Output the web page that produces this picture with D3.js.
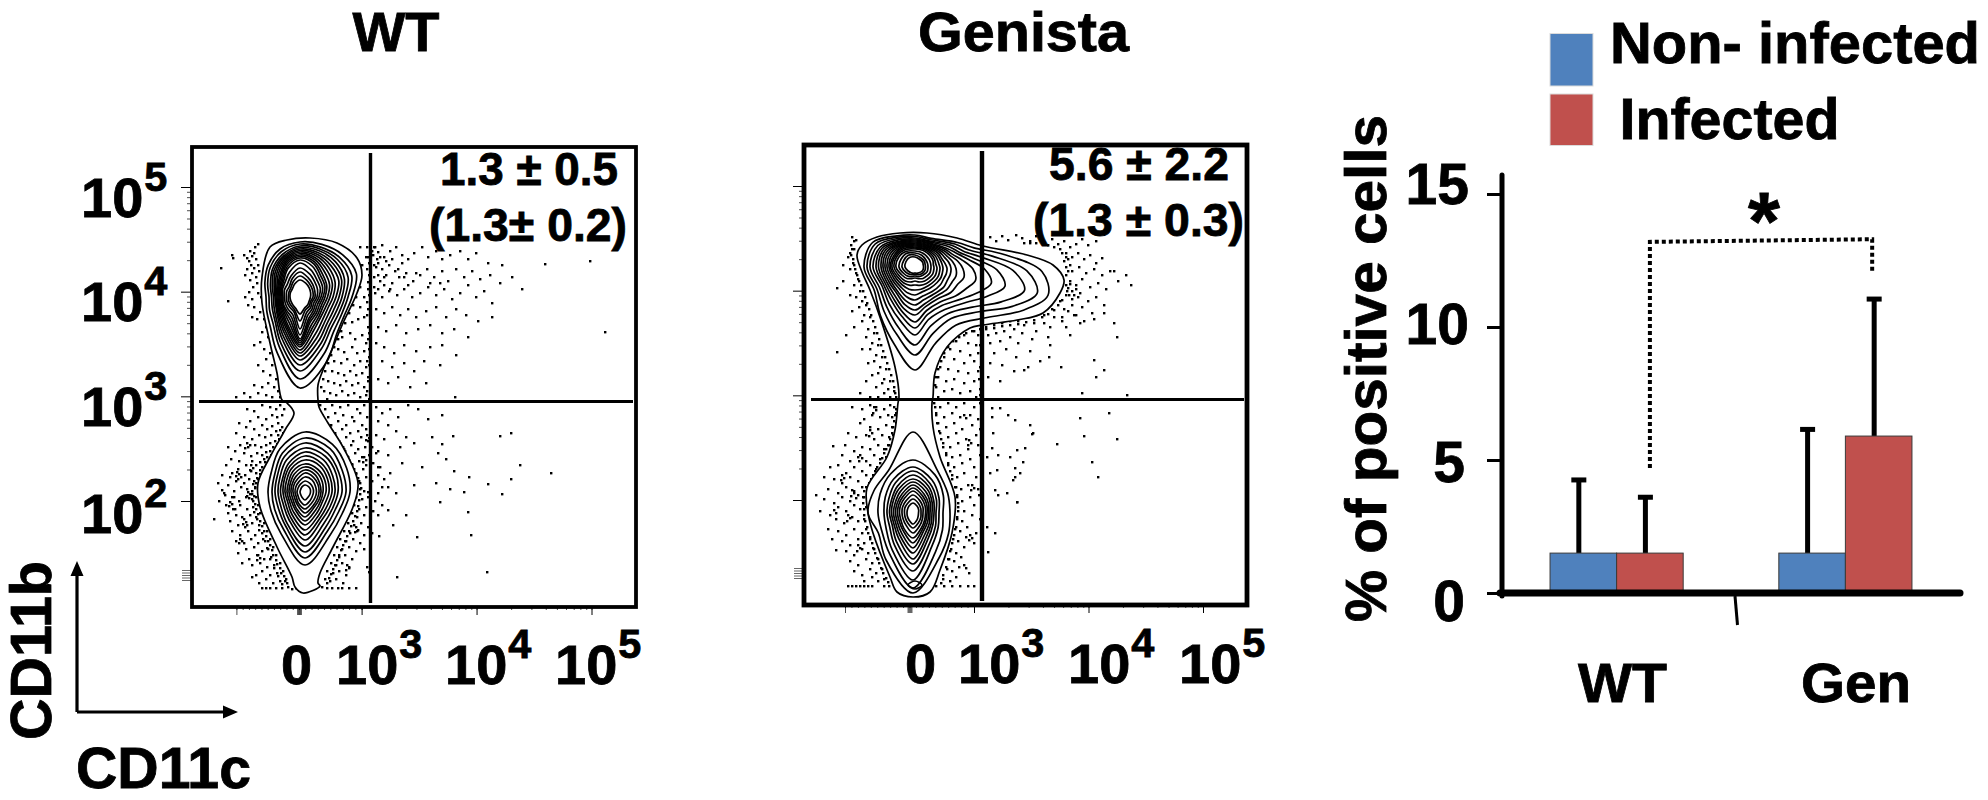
<!DOCTYPE html>
<html><head><meta charset="utf-8">
<script src="https://cdnjs.cloudflare.com/ajax/libs/d3/7.8.5/d3.min.js"></script>
<style>html,body{margin:0;background:#fff}svg{display:block}text{font-family:"Liberation Sans",Arial,sans-serif;font-weight:700;fill:#000;stroke:#000;stroke-width:.8px}</style>
</head><body><svg id="c" width="1988" height="800"></svg>
<script>
// ---- bar panel data
const groups = ["WT","Gen"];
const seriesNames = ["Non- infected","Infected"];
const seriesColors = ["#4F81BD","#C0504D"];
const nonInfected = [1.5,1.5];
const infected = [1.5,5.9];
const nonInfectedTop = [4.25,6.15];
const infectedTop = [3.6,11.05];
const barTicks = [0,5,10,15];
const bracket = [[4.7,0],[13.2,0],[13.3,1],[12.1,1]];

// ---- flow panels: contour rings and events in channel units
const wtOuter = [[118,91],[145,96],[165,111],[170,128],[165,146],[151,176],[141,200],[131,223],[126,238],[126,253],[127,260],[136,276],[151,300],[166,336],[161,360],[141,400],[128,426],[126,436],[128,439],[111,446],[103,440],[100,430],[85,400],[68,360],[66,336],[78,310],[93,283],[102,266],[95,256],[90,253],[85,226],[78,196],[70,156],[70,130],[78,100],[95,93]];
const wtUpperCentre = [108,150];
const wtUpperAngles = [0,22.5,45,67.5,90,112.5,135,157.5,180,202.5,225,247.5,270,292.5,315,337.5];
const wtUpperRings = [
[55,57,60,61,52,48,52,70,91,60,42,36,34,38,45,52],
[53,54,56,56,48,45,48,62,82,54,38,33,31,35,42,49],
[51,52,53,52,45,42,44,56,74,50,35,30,28.5,32,39,46],
[49.5,50,50,48,42,39,41,52,68,46,33,28,26.5,30,37,44],
[48,48,47,45,39,36,38,48,63,43,31,26,25,28,35,42.5],
[46.5,46,44,42,36,33,35,44,59,40,29.5,25,24,26.5,33,41],
[45,44,41,38,33,30,32,40,56,37.5,28,24,23,25,31,39.5],
[43.5,42,38,35,30,27.5,29,36,53,35,26.5,23,22,24,29,38],
[42,40,35,32,27.5,25,27,33,50,33,25,22,21,23,27.5,36.5],
[40.5,38,32,29,25,23,25,30,48,31,23.5,21,20,22,26,35],
[39,36,29.5,27,23,21,23,27,46,28,22,20,19,21,24.5,33],
[37,33,27,24.5,21,19,21,25,44,25,20.5,19,18,20,23,31],
[34,29,24,22,19,17,19,23,42,22,19,18,17,19,21,27],
[29,25,21,19,17,15,17,20,38,19,17,16,15.5,17,18,23],
[25,21,18,16,15,13,15,17,32,16,14.5,14,13.5,14.5,15,20],
[21,18,15.5,14,13,11.5,13,14,24,14,12.5,12,11.5,12,13,17],
[17,15,13,11.5,10.5,10,11,12,17,12,10.5,10,10,10.5,11,14]];
const wtLowerCentre = [113,345];
const lowerAngles = [0,30,60,90,120,150,180,210,240,270,300,330];
const wtLowerRings = [
[60,55,48,45,43,50,73,48,39,37,39,50],
[54,50,43,41,39,45,66,43,35,33,35,45],
[49,45,39,37,35,41,60,39,31,30,32,41],
[44,41,36,33,32,37,54,36,28,27,29,37],
[40,37,32,30,29,33,48,32,25,24.5,26,33],
[36,33,29,27,26,30,43,29,22.5,22,24,30],
[32,30,26,24,23,27,38,26,20,20,21.5,27],
[28,26,23,21,20,24,33,23,18,18,19,24],
[25,23,20,18,18,21,29,20,16,16,17,21],
[22,20,17,16,16,18,25,18,14,14,15,18],
[19,17,15,14,14,16,21,15,12,12,13,15],
[15,14,12,11.5,11.5,13,17,13,10,10,10.5,12],
[11,10,9,8.5,8.5,10,13,10,8,8,8,9],
[7,6.5,6,5.5,5.5,6,8,6,5,5,5,6]];

const genOuter = [[123,88],[153,93],[179,101],[223,110],[249,120],[260,135],[256,148],[239,168],[213,175],[179,180],[166,183],[143,202],[131,228],[129,252],[128,258],[129,282],[136,312],[151,352],[148,388],[136,425],[126,447],[109,452],[93,447],[86,432],[69,388],[64,368],[63,343],[83,312],[91,285],[94,258],[95,252],[91,222],[78,178],[66,145],[58,127],[53,110],[58,100],[73,92],[96,88]];
const genUpperCentre = [111,122];
const genUpperAngles = [0,30,60,72,82,92,102,112,125,145,165,180,195,215,240,270,300,330];
const genUpperRings = [
[32,33,49,62,90,127,136,116,88,71,79,103,80,60,47,51,49,36],
[30.5,31.5,46,56,78,112,125,105,78,63,69,88,70,54,44,48,46,34.5],
[29,30,43,51,68,98,112,93,70,57,61,78,63,49,41,45,43,33],
[28,29,40,47,60,82,92,78,62,52,54,68,56,45,38,42,40,31.5],
[27,28,37,44,54,70,78,68,56,47,49,61,51,41,36,39,38,30],
[26,27,35,40,48,58,62,56,50,43,45,55,47,38,34,36.5,36,29],
[25,26,33,37,43,48,50,46,44,39,41,48,43,35,32,34,34,28],
[24,25,31,34,38,41,42,40,39,36,38,43,39,32,30,32,32,27],
[23,24,29,31,34,36,36,35,35,33,34,38,35,30,28,30,30,26],
[22,23,27,28,30,32,32,31,31,30,30,33,31,27,26,28,28,25],
[21,22,25,26,27,28,28,28,27,26,26,28,27,24.5,24,26,26,24],
[20,21,23,23.5,24,25,25,25,24,23,23,23,23,22,22,24.5,24,23],
[19,20,21,21,21,22,22,22,21,20,19,18,19,19.5,20,23,22.5,21.5],
[18,18.5,19,19,18.5,19,19,19,18,17,15.5,14,15.5,17,18,21,21,20],
[16,16,16,16,16,16,16,16,15,14,12,11,12,14,15.5,19,19,18],
[14,13.5,13,13,13,13,13,13,12,11,10,9,10,11.5,13,16,16,16],
[12,11,11,10.5,10.5,10.5,10.5,10.5,10,9,8,7.5,8,9,10.5,13,13,13.5],
[10,9,9,8.5,8.5,8.5,8.5,8.5,8,7,6.5,6,6.5,7,8,10,10.5,11]];
const genLowerCentre = [109,368];
const genLowerRings = [
[81,49,40,37,41,52,80,54,40,45,45,49],
[53,44,35,30,34,45,75,47,36,35,38,45],
[46,38,30,26,29,38,67,42,31,29,32,39],
[42,34,27,23,26,34,58,37,27,26,28,35],
[38,31,24,21,23,30,51,33,24,23.5,25,31],
[34,28,22,19,21,27,46,29,22,21.5,23,28],
[31,25,20,17,19,24,40,26,20,19.5,20.5,25],
[28,22,18,15.5,17,21,35,23,18,17.5,18.5,22],
[25,19.5,16,14,15,19,30,20,16,15.5,16.5,19.5],
[22,17,14,12.5,13.5,17,25,18,14,13.5,14.5,17],
[18,14,11.5,10,11,14,20,14,11.5,11,12,14],
[14,11,9,8,9,11,15,11,9,8.5,9.5,11],
[10,8,6.5,5.5,6,8,11,8,6.5,6,6.5,8]];
const genMiniRing = [[111,436],[118,440],[111,444],[104,440]];

const wtEvents = [
29,121,36,154,40,108,41,111,52,108,55,111,58,104,60,109,63,100,66,97,62,106,57,114,59,118,64,112,62,121,60,126,66,118,55,122,53,128,58,133,64,130,67,124,65,136,61,140,57,145,53,150,60,152,66,146,69,150,56,158,62,160,68,165,72,172,65,172,60,170,74,180,70,185,76,190,68,195,62,198,72,202,78,206,74,212,66,218,80,218,71,224,78,228,84,232,76,236,70,240,82,240,86,244,66,246,74,248,80,250,88,250,62,238,58,250,52,246,44,250,
88,258,92,262,84,262,78,260,70,258,62,264,55,262,90,268,85,270,80,268,74,272,66,270,58,274,86,276,80,279,75,282,70,278,62,282,54,280,47,276,84,284,79,288,73,290,67,288,60,292,52,290,44,286,78,296,74,298,69,300,63,298,56,300,48,298,74,305,70,308,65,306,59,309,52,306,43,304,36,300,72,312,68,315,64,318,60,314,54,318,47,314,39,312,68,323,64,326,59,324,53,328,46,322,40,326,34,318,66,332,62,334,57,332,52,336,44,334,38,330,30,328,63,340,60,344,55,342,49,340,42,344,36,338,26,336,64,350,60,352,54,350,47,354,40,350,33,348,66,358,61,360,55,362,48,358,41,362,34,358,27,354,68,366,64,370,58,368,50,370,44,368,36,366,22,372,72,376,67,378,60,376,53,380,46,378,38,374,75,384,70,386,63,388,56,384,48,388,40,384,78,392,73,394,66,396,59,392,52,396,44,394,81,400,76,402,70,404,62,400,54,402,46,406,84,408,79,410,72,412,65,408,57,412,88,416,82,418,75,420,68,416,60,418,50,416,91,424,85,426,78,428,70,424,64,428,94,432,88,434,81,436,74,432,67,436,60,430,96,440,90,441,84,441,78,441,74,441,70,441,100,442,104,441,
128,258,133,262,140,258,148,260,156,258,165,262,172,258,130,268,136,270,143,266,151,268,160,270,168,266,175,270,133,276,139,278,146,274,154,278,162,274,170,278,178,276,137,284,143,286,150,282,158,286,166,284,174,282,141,292,147,294,154,290,161,294,169,290,176,294,146,300,152,302,159,298,166,302,173,300,180,300,150,308,156,310,163,306,170,310,177,308,184,306,155,316,160,318,167,314,174,318,181,316,188,320,158,324,164,326,171,322,178,326,186,328,161,332,167,334,174,330,180,334,192,332,168,342,172,344,178,340,186,346,196,340,164,350,170,352,176,350,183,354,190,358,162,358,167,362,174,360,181,364,160,366,165,370,172,368,178,372,186,368,156,376,162,378,169,376,176,380,152,384,158,386,165,384,172,388,180,386,148,392,154,394,161,392,168,396,145,400,150,402,157,400,164,404,172,402,142,408,147,410,153,408,160,412,139,416,144,418,150,416,157,420,135,424,141,426,147,424,154,428,133,432,138,434,144,432,151,436,130,440,135,441,140,441,146,441,150,441,157,441,164,441,
170,118,174,110,168,100,175,100,172,150,168,160,176,135,175,155,160,175,166,172,172,170,176,180,150,190,158,186,163,192,170,188,174,196,146,202,152,205,160,200,165,206,172,204,177,210,142,214,149,216,155,212,162,218,168,214,174,220,140,224,146,226,152,228,158,224,164,228,170,226,176,230,136,234,142,236,148,238,154,234,160,238,166,236,172,240,178,238,132,244,138,246,144,248,150,244,156,248,162,246,168,250,174,248,135,252,
182,100,186,105,190,98,185,112,192,110,198,104,204,100,210,108,184,120,190,122,197,118,203,124,210,116,216,112,222,106,230,100,236,110,244,104,250,112,258,108,268,104,276,112,284,106,296,116,310,118,353,117,398,114,413,185,
182,130,188,134,194,128,200,136,207,130,214,126,221,134,228,128,235,122,242,130,250,124,256,134,264,122,272,130,280,124,288,132,298,128,308,136,320,130,330,142,
183,146,190,150,197,144,205,148,212,142,220,150,228,146,236,140,244,148,252,142,260,152,268,146,276,138,284,150,292,144,300,156,184,162,192,166,200,160,208,168,216,162,224,170,234,164,244,160,254,170,264,162,274,168,286,174,300,170,186,180,194,184,204,178,214,186,226,182,238,178,250,186,262,182,276,190,184,196,192,200,202,206,212,198,224,204,238,200,250,198,264,208,190,214,200,220,212,216,222,224,232,214,248,218,186,232,196,236,206,230,218,240,234,236,263,250,
184,260,190,266,198,262,186,274,196,278,206,270,216,258,184,288,192,292,204,284,214,290,226,262,236,272,250,268,186,304,196,308,208,300,222,296,240,290,186,320,198,326,210,316,230,320,246,306,190,340,204,346,222,338,244,336,262,324,261,289,250,297,254,312,308,289,319,286,328,318,359,326,319,332,296,337,310,347,277,330,272,345,258,342,248,355,276,365,225,390,279,388,295,425,205,430,187,389,201,378,214,368,196,363];
const wtEdgeEvents = [
90,280,88,283,91,286,86,288,87,292,83,294,85,297,81,300,83,303,78,304,79,308,75,310,77,313,73,315,74,319,70,320,71,324,68,327,69,330,65,331,64,336,61,337,63,341,60,347,62,349,61,354,63,357,64,362,62,365,66,367,65,372,68,374,70,379,67,383,72,384,74,389,71,392,76,394,78,398,75,401,80,403,81,408,78,412,84,413,85,417,82,421,88,421,89,426,86,429,92,429,93,434,90,437,95,436,
45,325,47,327,44,329,49,330,46,332,56,345,58,347,55,349,57,351,38,355,40,357,37,359,52,372,54,375,51,377,55,378,48,392,50,394,47,396,66,408,68,411,65,413,42,350,43,362,30,343,32,346,59,318,61,321,58,323,55,296,58,298,53,301,
138,280,140,284,143,288,145,292,148,296,151,300,153,304,155,309,157,313,160,317,162,322,164,327,166,331,168,336,169,341,168,347,167,353,166,359,165,364,163,369,161,374,159,379,157,384,155,389,153,394,151,398,149,403,147,408,145,413,143,418,141,422,139,427,137,431,135,436,
175,288,177,291,174,293,172,310,174,313,171,315,164,380,166,383,163,385,155,418,157,421,154,423,176,345,178,348,175,420,177,425,
176,110,177,116,175,122,177,128,176,142,177,148,176,162,175,168,177,186,176,192,177,202,175,214,177,218,176,234,175,244,177,252,
168,140,164,150,161,158,157,166,153,176,149,184,146,192,142,200,139,208,136,216,133,224,131,232,129,240,
180,104,181,108,183,100,188,110,186,116,182,118,194,114,200,112,186,128,192,130,182,140,186,142,192,138,198,142,206,122,212,130,216,138,224,126,238,136,248,136];

const genEvents = [
48,92,52,95,47,100,50,104,46,108,49,114,44,112,50,120,46,124,52,128,39,120,39,136,33,143,54,134,50,140,56,146,52,152,46,150,58,156,62,160,55,162,48,166,60,170,66,172,58,176,50,182,42,190,64,184,70,188,62,192,68,198,74,200,66,204,33,207,58,204,72,210,78,212,70,216,64,218,76,222,82,224,74,228,68,230,80,234,86,236,78,238,72,242,62,236,84,244,90,246,80,248,74,252,66,252,86,252,92,252,56,248,
94,260,90,262,86,260,80,264,72,262,66,260,58,264,48,262,92,268,88,272,84,270,76,272,68,270,60,274,92,278,88,282,82,280,74,284,66,282,56,278,89,290,85,292,78,290,70,294,62,290,52,292,44,288,85,300,80,304,74,300,66,304,58,302,50,306,41,300,82,312,76,314,70,310,62,316,54,312,46,316,38,310,29,301,78,322,72,324,66,320,58,326,50,322,42,328,34,320,26,322,74,332,68,334,62,330,54,336,46,332,38,338,30,334,20,332,68,340,64,344,58,342,50,346,42,342,34,348,24,344,12,350,60,352,54,350,46,356,38,352,30,358,20,354,62,362,56,364,50,360,42,366,34,362,26,370,16,366,60,374,54,376,48,372,40,378,32,374,24,384,62,384,58,388,50,384,42,390,34,386,28,394,66,394,60,398,54,394,46,400,38,396,70,404,64,408,58,404,50,410,42,406,32,405,74,414,68,418,62,414,54,420,46,416,78,424,72,428,66,424,58,430,50,426,80,434,74,436,68,432,60,436,85,441,80,441,68,441,64,441,60,441,56,441,52,441,48,441,44,441,
130,258,136,262,144,258,152,262,160,258,170,262,176,258,132,268,140,272,148,268,156,272,166,270,174,274,134,278,142,282,150,278,158,284,168,280,176,284,136,288,144,292,152,288,162,294,172,290,139,298,146,302,154,298,164,304,174,300,142,308,148,312,156,310,166,314,176,310,144,320,150,322,158,318,170,322,148,330,153,332,160,328,172,332,152,342,157,344,164,340,174,344,153,352,158,356,166,352,175,350,154,362,160,366,170,360,153,372,158,376,168,370,176,374,151,384,156,386,163,382,172,388,149,394,154,396,162,392,170,398,147,404,152,408,160,402,145,414,150,416,157,412,143,424,148,426,155,422,165,428,139,434,146,436,152,432,132,441,140,441,148,441,156,441,164,441,170,441,
168,186,174,190,160,190,152,196,164,198,172,200,146,204,156,206,166,210,174,208,140,212,150,214,160,218,170,216,136,222,144,224,154,226,164,228,174,226,134,232,142,236,150,234,160,238,170,236,132,242,140,246,148,244,156,248,166,246,176,244,134,252,144,254,172,252,
182,182,190,180,198,178,206,176,214,176,224,172,232,170,240,170,248,164,256,156,184,190,192,188,200,186,210,184,220,180,230,178,240,178,250,172,260,164,268,160,186,198,196,196,206,192,218,188,232,186,246,182,258,176,270,170,278,162,190,208,202,204,214,198,228,194,244,192,262,182,276,178,288,168,186,218,198,220,212,212,226,206,246,200,266,190,184,232,196,236,210,226,224,222,236,216,290,215,300,225,292,232,313,192,323,250,278,248,257,222,245,212,220,225,
186,92,192,96,198,91,204,95,212,90,218,93,226,96,232,91,240,97,248,94,254,99,260,96,266,102,272,99,278,94,284,100,292,96,262,108,268,112,274,108,280,114,286,110,292,118,298,113,262,122,268,126,275,122,282,128,290,124,298,130,306,126,266,136,272,140,278,134,286,142,294,138,302,144,314,136,262,150,268,154,276,148,284,156,292,152,300,160,258,172,264,166,272,170,280,176,290,174,300,168,310,178,322,130,327,140,310,126,
188,263,196,263,204,270,211,275,226,280,229,288,188,272,189,288,188,303,194,310,213,305,221,303,206,312,219,317,211,323,216,328,209,335,193,325,186,328,191,345,194,350,203,348,213,357,183,312,183,382,191,388,184,407,276,273,305,268,313,294,280,291,253,299,228,289,288,317,294,332,211,332,213,357];
const genEdgeEvents = [
50,96,48,104,47,110,49,118,51,124,53,130,55,136,57,140,59,146,61,152,63,158,65,164,67,170,69,176,71,182,73,188,75,194,77,200,79,206,81,212,83,218,85,224,87,230,89,236,90,242,91,248,
92,264,91,270,90,276,89,282,88,288,86,294,84,300,82,304,80,308,78,313,76,318,73,322,71,326,69,330,67,334,65,338,62,342,60,346,59,352,59,358,60,364,60,370,61,376,63,382,64,388,66,392,68,398,69,403,71,408,73,413,75,418,77,423,79,428,82,433,84,437,
48,345,50,348,47,351,52,353,44,370,46,373,43,376,54,400,56,403,53,406,38,330,40,333,37,335,56,310,58,313,55,316,66,285,68,288,65,291,70,262,72,265,69,268,30,365,32,368,
131,262,132,270,133,278,135,286,137,294,139,302,142,310,144,318,146,326,148,334,151,342,153,350,154,358,154,366,153,374,152,382,150,390,148,398,146,406,144,414,142,422,139,430,137,438,
165,295,167,298,164,300,168,340,170,343,167,345,166,390,168,393,165,395,160,270,162,273,160,420,162,423,
131,240,132,232,134,224,137,216,140,208,144,202,149,196,155,192,162,188,170,186,176,184,
182,184,190,183,198,181,206,180,214,179,222,177,230,175,238,172,244,169,250,165,254,160,258,155,
262,140,264,143,266,139,263,146,268,146,265,150,270,150,272,144,274,152,262,130,264,126,266,120,264,114,262,112,260,116,258,108,256,104,250,102,244,100,238,98,232,98,226,98,220,98,
176,200,177,212,176,222,175,234,177,240,176,250];

const xTickLabels = ["0","10","10","10"];
const xTickSup = ["","3","4","5"];
const yTickLabels = ["10","10","10","10"];
const yTickSup = ["5","4","3","2"];
const panelStats = [["1.3 ± 0.5","(1.3± 0.2)"],["5.6 ± 2.2","(1.3 ± 0.3)"]];

const svg = d3.select("#c");
const rad = d => d*Math.PI/180;
const pairs = a => d3.range(0,a.length,2).map(i=>[a[i],a[i+1]]);
function label(t,x,y,size,o={}){
  const n = svg.append("text").attr("x",x).attr("y",y).attr("font-size",size).text(t);
  if(o.anchor) n.attr("text-anchor",o.anchor);
  if(o.len) n.attr("textLength",o.len).attr("lengthAdjust","spacingAndGlyphs");
  if(o.rot) n.attr("transform",`rotate(-90 ${x} ${y})`);
  return n;
}
function powerLabel(t,s,x,y,size){
  const n = label(t,x,y,size);
  if(s) n.append("tspan").attr("dy",-0.47*size).attr("dx",1).attr("font-size",size*0.74).text(s);
}
function flowPanel(p){
  const g = svg.append("g");
  const x = d3.scaleLinear([0,p.w],[p.left,p.left+p.w]);
  const y = d3.scaleLinear([0,p.h],[p.top,p.top+p.h]);
  // events
  g.append("g").selectAll("rect").data(pairs(p.events)).join("rect")
    .attr("x",d=>x(d[0])-1).attr("y",d=>y(d[1])-1).attr("width",2.4).attr("height",2.4).attr("fill","#000");
  const line = d3.line().x(d=>x(d[0])).y(d=>y(d[1])).curve(d3.curveCatmullRomClosed.alpha(0.5));
  g.append("path").attr("d",line(p.outer)).attr("fill","#fff").attr("stroke","#000").attr("stroke-width",1.7);
  p.blobs.forEach(b=>{
    const radial = d3.lineRadial().curve(d3.curveCatmullRomClosed.alpha(0.5));
    g.append("g").attr("transform",`translate(${x(b.centre[0])},${y(b.centre[1])})`)
      .selectAll("path").data(b.rings).join("path")
      .attr("d",r=>radial(r.map((v,i)=>[rad(b.angles[i]),x(v)-x(0)])))
      .attr("fill","none").attr("stroke","#000").attr("stroke-width",1.7);
  });
  if(p.mini) g.append("path").attr("d",line(p.mini)).attr("fill","none").attr("stroke","#000").attr("stroke-width",1.5);
  // axes outside the frame
  const yLog = d3.scaleLog([1e2,1e5],[p.y1e2,p.y1e5]);
  const yAll = yLog.ticks().filter(v=>![1e2,1e3,1e4,1e5].includes(v));
  g.append("g").attr("transform",`translate(${p.left},0)`).call(d3.axisLeft(yLog).tickValues(yAll).tickSize(5).tickFormat("")).call(s=>s.select(".domain").remove()).selectAll("line").attr("stroke-width",.7);
  g.append("g").attr("transform",`translate(${p.left},0)`).call(d3.axisLeft(yLog).tickValues([1e2,1e3,1e4,1e5]).tickSize(11).tickFormat("")).call(s=>s.select(".domain").remove()).selectAll("line").attr("stroke-width",1);
  const yLow = d3.scaleLinear([-100,100],[y(p.h-32)+5,y(p.h-32)-5]);
  g.append("g").attr("transform",`translate(${p.left},0)`).call(d3.axisLeft(yLow).ticks(6).tickSize(10).tickFormat("")).call(s=>s.select(".domain").remove()).selectAll("line").attr("stroke-width",.6);
  const xLog = d3.scaleLog([1e3,1e5],[p.x1e3,p.x1e5]);
  g.append("g").attr("transform",`translate(0,${p.top+p.h})`).call(d3.axisBottom(xLog).tickValues(xLog.ticks()).tickSize(3).tickFormat("")).call(s=>s.select(".domain").remove()).selectAll("line").attr("stroke-width",.7);
  g.append("g").attr("transform",`translate(0,${p.top+p.h})`).call(d3.axisBottom(xLog).tickValues([1e3,1e4,1e5]).tickSize(8).tickFormat("")).call(s=>s.select(".domain").remove()).selectAll("line").attr("stroke-width",1);
  const xLow = d3.scaleLinear([-1000,1000],[p.x0-(p.x1e3-p.x0),p.x1e3]);
  g.append("g").attr("transform",`translate(0,${p.top+p.h})`).call(d3.axisBottom(xLow).tickValues(d3.range(-1000,1001,100)).tickSize(3).tickFormat("")).call(s=>s.select(".domain").remove()).selectAll("line").attr("stroke-width",.7);
  g.append("g").attr("transform",`translate(0,${p.top+p.h})`).call(d3.axisBottom(xLow).tickValues([-1000,-30,-15,0,15,30]).tickSize(8).tickFormat("")).call(s=>s.select(".domain").remove()).selectAll("line").attr("stroke-width",.7);
  // frame and gates
  g.append("rect").attr("x",p.left).attr("y",p.top).attr("width",p.w).attr("height",p.h).attr("fill","none").attr("stroke","#000").attr("stroke-width",p.frame);
  g.append("line").attr("x1",x(p.gateX)).attr("x2",x(p.gateX)).attr("y1",y(6)).attr("y2",y(p.h-4)).attr("stroke","#000").attr("stroke-width",p.gate);
  g.append("line").attr("x1",x(7)).attr("x2",x(p.w-3)).attr("y1",y(p.gateY)).attr("y2",y(p.gateY)).attr("stroke","#000").attr("stroke-width",3);
}
flowPanel({left:192,top:147,w:444,h:460,frame:3.8,gate:3.4,events:wtEvents.concat(wtEdgeEvents),outer:wtOuter,
  blobs:[{centre:wtUpperCentre,angles:wtUpperAngles,rings:wtUpperRings},{centre:wtLowerCentre,angles:lowerAngles,rings:wtLowerRings}],
  y1e2:501,y1e5:187,x0:299,x1e3:361.6,x1e5:591.5,gateX:178.5,gateY:254.5});
flowPanel({left:804,top:145,w:443,h:460,frame:4.8,gate:4.4,events:genEvents.concat(genEdgeEvents),outer:genOuter,mini:genMiniRing,
  blobs:[{centre:genUpperCentre,angles:genUpperAngles,rings:genUpperRings},{centre:genLowerCentre,angles:lowerAngles,rings:genLowerRings}],
  y1e2:500,y1e5:186,x0:909.5,x1e3:974,x1e5:1203,gateX:178,gateY:254.5});

// flow panel text
label("WT",396,51,55,{anchor:"middle",len:87});
label("Genista",1023.5,51,56,{anchor:"middle",len:211});
label(panelStats[0][0],529,185,46,{anchor:"middle",len:178});
label(panelStats[0][1],528,241,46,{anchor:"middle",len:198});
label(panelStats[1][0],1139,180,46,{anchor:"middle",len:180});
label(panelStats[1][1],1138.5,236,46,{anchor:"middle",len:211});
[217,321,426,533].forEach((b,i)=>powerLabel(yTickLabels[i],yTickSup[i],81,b,56));
[[281],[336],[445],[555]].forEach((l,i)=>powerLabel(xTickLabels[i],xTickSup[i],l[0],684,56));
[[905],[958],[1068],[1179]].forEach((l,i)=>powerLabel(xTickLabels[i],xTickSup[i],l[0],683,56));
label("CD11b",51,740,57,{rot:1,len:179});
label("CD11c",76,788,57,{len:175});
// gating arrows
svg.append("path").attr("d","M77,712V570M77,712H230").attr("fill","none").attr("stroke","#000").attr("stroke-width",3.2);
svg.append("path").attr("d","M77,561l-6.5,15h13zM238,712l-15,-6.5v13z").attr("fill","#000");

// bar panel
const yBar = d3.scaleLinear([0,15],[593,194]);
const xGroup = d3.scaleBand(groups,[1502,1960]).paddingInner(0.418).paddingOuter(0.21);
const xSeries = d3.scaleBand([0,1],[0,xGroup.bandwidth()]);
const barSeries = [nonInfected,infected], topSeries=[nonInfectedTop,infectedTop];
const barErrShift = [-4.5,-4.5];
barSeries.forEach((vals,s)=>{
  const cx = g=>xGroup(g)+xSeries(s)+xSeries.bandwidth()/2+barErrShift[s];
  svg.append("g").selectAll("line").data(groups).join("line")
    .attr("x1",cx).attr("x2",cx).attr("y1",(g,i)=>yBar(vals[i])).attr("y2",(g,i)=>yBar(topSeries[s][i]))
    .attr("stroke","#000").attr("stroke-width",5);
  svg.append("g").selectAll("rect").data(groups).join("rect")
    .attr("x",g=>cx(g)-7.5).attr("width",15).attr("y",(g,i)=>yBar(topSeries[s][i])-2.5).attr("height",5).attr("fill","#000");
  svg.append("g").selectAll("rect").data(groups).join("rect")
    .attr("x",g=>xGroup(g)+xSeries(s)).attr("width",xSeries.bandwidth())
    .attr("y",(g,i)=>yBar(vals[i])).attr("height",(g,i)=>yBar(0)-yBar(vals[i]))
    .attr("fill",seriesColors[s]).attr("stroke","#3a3a3a").attr("stroke-width",1);
});
svg.append("g").attr("transform","translate(1502,0)").call(d3.axisLeft(yBar).tickValues(barTicks).tickSize(15).tickFormat(""))
  .call(s=>s.select(".domain").remove()).selectAll("line").attr("stroke","#000").attr("stroke-width",3);
svg.append("line").attr("x1",1502).attr("x2",1502).attr("y1",175).attr("y2",596).attr("stroke","#000").attr("stroke-width",5).attr("stroke-linecap","round");
svg.append("line").attr("x1",1500).attr("x2",1960).attr("y1",yBar(0)).attr("y2",yBar(0)).attr("stroke","#000").attr("stroke-width",7).attr("stroke-linecap","round");
svg.append("line").attr("x1",1735).attr("x2",1737.5).attr("y1",596).attr("y2",625).attr("stroke","#000").attr("stroke-width",3);
// significance bracket
const bracketX = [xGroup("WT")+xSeries(1)+xSeries.bandwidth()/2, xGroup("Gen")+xSeries(1)+xSeries.bandwidth()/2-6.5];
svg.append("path").attr("d",d3.line().x(d=>bracketX[d[1]]).y(d=>yBar(d[0]))(bracket))
  .attr("fill","none").attr("stroke","#000").attr("stroke-width",4).attr("stroke-dasharray","4 3");
label("*",1764,249,82,{anchor:"middle"});
[[204,1469],[344,1469],[482,1465],[621,1465]].forEach((p,i)=>label(String(barTicks[3-i]),p[1],p[0],57,{anchor:"end"}));
label("% of positive cells",1386,622,57,{rot:1,len:507});
label("WT",1622.5,702,56,{anchor:"middle",len:89});
label("Gen",1856,702,56,{anchor:"middle",len:110});
// legend
[[33.5,52.5],[94,51.5]].forEach((r,i)=>svg.append("rect").attr("x",1550).attr("y",r[0]).attr("width",43).attr("height",r[1]).attr("fill",seriesColors[i]).attr("stroke","#dcdcdc").attr("stroke-width",1));
label(seriesNames[0],1610,63,57,{len:370});
label(seriesNames[1],1619.5,139,57,{len:220});
</script></body></html>
